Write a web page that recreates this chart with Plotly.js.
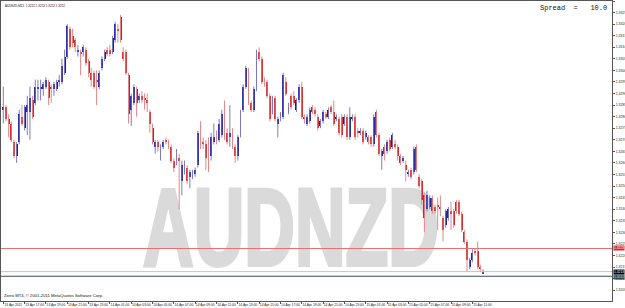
<!DOCTYPE html>
<html>
<head>
<meta charset="utf-8">
<script src="https://cdn.plot.ly/plotly-3.0.1.min.js"></script>
<style>
  html, body { margin: 0; padding: 0; background: #ffffff; overflow: hidden; }
  #wrap { position: relative; width: 625px; height: 308px; }
  #watermark {
    position: absolute; left: 0; top: 172px; width: 582px; height: 110px;
    font-family: "Liberation Sans", Arial, sans-serif; font-weight: bold;
    font-size: 110px; line-height: 110px; text-align: center; white-space: nowrap;
    color: #dadada; -webkit-text-stroke: 4px #dadada;
    transform: scaleX(0.637); transform-origin: center top; z-index: 0;
  }
  #chart { position: absolute; left: 0; top: 0; width: 625px; height: 308px; z-index: 1; }
</style>
</head>
<body>
<div id="wrap">
  <div id="watermark">AUDNZD</div>
  <div id="chart"></div>
</div>
<script>
// ---- Data (AUDNZD, M15) ----
const symbolTitle = "AUDNZD,M15  1.3212 1.3213 1.3212 1.3212";
const spreadText = "Spread\u00a0\u00a0=\u00a0\u00a0\u00a010.0";
const copyrightText = "Zorro MT4, \u00a9 2001-2011 MetaQuotes Software Corp.";

const barOpen = [
  1.3283,1.3284,1.3279,1.3277,1.3269,1.3263,1.3269,1.3280,1.3275,1.3282,
  1.3282,1.3287,1.3286,1.3292,1.3292,1.3292,1.3293,1.3295,1.3293,1.3292,
  1.3292,1.3295,1.3295,1.3299,1.3306,1.3318,1.3315,1.3313,1.3308,1.3308,
  1.3308,1.3309,1.3304,1.3299,1.3299,1.3296,1.3293,1.3301,1.3305,1.3309,
  1.3309,1.3308,1.3313,1.3318,1.3323,1.3308,1.3308,1.3298,1.3283,1.3286,
  1.3292,1.3287,1.3289,1.3288,1.3287,1.3282,1.3275,1.3267,1.3269,1.3263,
  1.3267,1.3270,1.3269,1.3267,1.3261,1.3261,1.3262,1.3252,1.3256,1.3258,
  1.3254,1.3254,1.3255,1.3259,1.3274,1.3269,1.3268,1.3268,1.3263,1.3269,
  1.3272,1.3270,1.3272,1.3282,1.3273,1.3271,1.3274,1.3267,1.3263,1.3272,
  1.3283,1.3293,1.3300,1.3286,1.3283,1.3292,1.3308,1.3305,1.3296,1.3295,
  1.3289,1.3282,1.3288,1.3277,1.3280,1.3280,1.3295,1.3282,1.3289,1.3289,
  1.3283,1.3287,1.3293,1.3280,1.3277,1.3278,1.3284,1.3283,1.3280,1.3276,
  1.3278,1.3281,1.3280,1.3284,1.3282,1.3279,1.3279,1.3280,1.3277,1.3280,
  1.3271,1.3279,1.3280,1.3274,1.3273,1.3274,1.3271,1.3271,1.3271,1.3268,
  1.3282,1.3272,1.3263,1.3267,1.3265,1.3270,1.3267,1.3268,1.3267,1.3263,
  1.3261,1.3259,1.3255,1.3257,1.3256,1.3267,1.3254,1.3252,1.3246,1.3240,
  1.3241,1.3245,1.3241,1.3242,1.3241,1.3236,1.3233,1.3236,1.3239,1.3239,
  1.3243,1.3243,1.3238,1.3230,1.3226,1.3215,1.3218,1.3222,1.3222,1.3215,
  1.3212
];
const barHigh = [
  1.3293,1.3285,1.3281,1.3278,1.3270,1.3269,1.3283,1.3285,1.3285,1.3289,
  1.3293,1.3289,1.3296,1.3296,1.3296,1.3295,1.3297,1.3296,1.3294,1.3295,
  1.3296,1.3298,1.3305,1.3309,1.3320,1.3319,1.3318,1.3314,1.3311,1.3309,
  1.3311,1.3310,1.3305,1.3301,1.3300,1.3300,1.3300,1.3306,1.3309,1.3310,
  1.3311,1.3315,1.3321,1.3320,1.3324,1.3310,1.3309,1.3299,1.3290,1.3294,
  1.3293,1.3290,1.3291,1.3290,1.3290,1.3283,1.3277,1.3270,1.3270,1.3268,
  1.3270,1.3271,1.3270,1.3268,1.3262,1.3266,1.3264,1.3261,1.3261,1.3259,
  1.3257,1.3257,1.3258,1.3274,1.3278,1.3271,1.3270,1.3271,1.3273,1.3277,
  1.3274,1.3279,1.3283,1.3287,1.3275,1.3285,1.3275,1.3268,1.3272,1.3283,
  1.3294,1.3302,1.3301,1.3287,1.3293,1.3309,1.3310,1.3306,1.3297,1.3296,
  1.3290,1.3289,1.3289,1.3280,1.3282,1.3299,1.3297,1.3286,1.3290,1.3291,
  1.3288,1.3294,1.3295,1.3281,1.3281,1.3284,1.3285,1.3284,1.3281,1.3279,
  1.3283,1.3282,1.3284,1.3285,1.3287,1.3281,1.3280,1.3281,1.3281,1.3281,
  1.3284,1.3281,1.3281,1.3275,1.3275,1.3275,1.3274,1.3272,1.3272,1.3281,
  1.3283,1.3273,1.3266,1.3268,1.3270,1.3271,1.3273,1.3270,1.3268,1.3264,
  1.3263,1.3261,1.3257,1.3258,1.3267,1.3268,1.3255,1.3253,1.3247,1.3248,
  1.3246,1.3246,1.3242,1.3245,1.3246,1.3237,1.3240,1.3241,1.3243,1.3240,
  1.3244,1.3244,1.3239,1.3231,1.3227,1.3219,1.3223,1.3223,1.3226,1.3216,
  1.3214
];
const barLow = [
  1.3277,1.3278,1.3271,1.3269,1.3262,1.3260,1.3268,1.3276,1.3274,1.3272,
  1.3270,1.3279,1.3285,1.3287,1.3287,1.3289,1.3292,1.3285,1.3286,1.3289,
  1.3291,1.3293,1.3294,1.3298,1.3305,1.3309,1.3310,1.3308,1.3306,1.3298,
  1.3306,1.3302,1.3297,1.3293,1.3292,1.3285,1.3292,1.3300,1.3304,1.3306,
  1.3306,1.3307,1.3312,1.3312,1.3312,1.3304,1.3298,1.3277,1.3276,1.3285,
  1.3280,1.3286,1.3286,1.3283,1.3282,1.3273,1.3268,1.3264,1.3265,1.3261,
  1.3266,1.3268,1.3266,1.3260,1.3256,1.3259,1.3240,1.3246,1.3255,1.3251,
  1.3249,1.3253,1.3254,1.3258,1.3266,1.3266,1.3257,1.3256,1.3261,1.3268,
  1.3268,1.3269,1.3271,1.3270,1.3268,1.3267,1.3266,1.3260,1.3261,1.3271,
  1.3282,1.3292,1.3285,1.3282,1.3282,1.3291,1.3304,1.3294,1.3293,1.3288,
  1.3278,1.3281,1.3278,1.3271,1.3278,1.3279,1.3289,1.3281,1.3283,1.3285,
  1.3282,1.3286,1.3279,1.3277,1.3276,1.3277,1.3281,1.3280,1.3274,1.3275,
  1.3277,1.3279,1.3279,1.3281,1.3276,1.3278,1.3272,1.3271,1.3276,1.3270,
  1.3270,1.3278,1.3270,1.3271,1.3272,1.3268,1.3270,1.3268,1.3267,1.3267,
  1.3271,1.3263,1.3257,1.3261,1.3264,1.3265,1.3266,1.3266,1.3261,1.3259,
  1.3260,1.3252,1.3254,1.3253,1.3255,1.3256,1.3249,1.3242,1.3230,1.3239,
  1.3240,1.3238,1.3238,1.3231,1.3237,1.3226,1.3232,1.3235,1.3231,1.3232,
  1.3238,1.3237,1.3230,1.3225,1.3213,1.3214,1.3217,1.3220,1.3214,1.3213,
  1.3212
];
const barClose = [
  1.3284,1.3279,1.3277,1.3270,1.3263,1.3268,1.3281,1.3277,1.3284,1.3285,
  1.3288,1.3280,1.3293,1.3293,1.3293,1.3294,1.3296,1.3288,1.3292,1.3294,
  1.3295,1.3296,1.3302,1.3306,1.3319,1.3310,1.3312,1.3310,1.3309,1.3307,
  1.3310,1.3303,1.3299,1.3296,1.3293,1.3295,1.3299,1.3305,1.3308,1.3307,
  1.3307,1.3314,1.3320,1.3317,1.3313,1.3305,1.3299,1.3281,1.3289,1.3293,
  1.3286,1.3289,1.3287,1.3287,1.3286,1.3277,1.3269,1.3269,1.3267,1.3267,
  1.3269,1.3269,1.3267,1.3261,1.3258,1.3264,1.3261,1.3259,1.3259,1.3252,
  1.3256,1.3256,1.3257,1.3273,1.3267,1.3268,1.3262,1.3266,1.3271,1.3271,
  1.3269,1.3277,1.3281,1.3271,1.3269,1.3273,1.3267,1.3263,1.3271,1.3281,
  1.3293,1.3301,1.3286,1.3283,1.3292,1.3308,1.3305,1.3295,1.3295,1.3289,
  1.3279,1.3288,1.3279,1.3279,1.3281,1.3298,1.3290,1.3284,1.3284,1.3286,
  1.3287,1.3293,1.3280,1.3279,1.3280,1.3283,1.3282,1.3281,1.3275,1.3278,
  1.3282,1.3280,1.3283,1.3282,1.3277,1.3280,1.3273,1.3272,1.3280,1.3271,
  1.3280,1.3280,1.3271,1.3273,1.3274,1.3269,1.3273,1.3269,1.3268,1.3280,
  1.3272,1.3264,1.3265,1.3264,1.3269,1.3266,1.3272,1.3267,1.3263,1.3260,
  1.3262,1.3257,1.3256,1.3254,1.3266,1.3257,1.3250,1.3244,1.3236,1.3246,
  1.3245,1.3239,1.3239,1.3241,1.3240,1.3231,1.3239,1.3240,1.3238,1.3233,
  1.3239,1.3238,1.3231,1.3226,1.3218,1.3218,1.3221,1.3221,1.3215,1.3214,
  1.3213
];

// time-axis labels (every 8th M15 bar = 2 hours)
const timeTickBars = [0,8,16,24,32,40,48,56,64,72,80,88,96,104,112,120,128,136,144,152,160,168,176];
const timeTickLabels = [
  "13 Apr 2011","13 Apr 17:00","13 Apr 19:00","13 Apr 21:00","13 Apr 23:00",
  "14 Apr 01:00","14 Apr 03:00","14 Apr 05:00","14 Apr 07:00","14 Apr 09:00",
  "14 Apr 11:00","14 Apr 13:00","14 Apr 15:00","14 Apr 17:00","14 Apr 19:00",
  "14 Apr 21:00","14 Apr 23:00","15 Apr 01:00","15 Apr 03:00","15 Apr 05:00",
  "15 Apr 07:00","15 Apr 09:00","15 Apr 11:00"
];

// horizontal price levels
const askPrice = 1.3223;
const bidPrice = 1.3213;
const levelPrice = 1.3211;

// ---- Build traces ----
const UP_BODY = '#15159c', DOWN_BODY = '#d01818';
const UP_WICK = '#7c7cc2', DOWN_WICK = '#e48888';

const barIndex = barOpen.map((_, i) => i);
const isUp = barOpen.map((o, i) => barClose[i] >= o);

function wicks(up) {
  const x = [], y = [];
  for (let i = 0; i < barOpen.length; i++) {
    if (isUp[i] === up) {
      x.push(i, i, null);
      y.push(barLow[i], barHigh[i], null);
    }
  }
  return { x, y };
}
const upW = wicks(true), dnW = wicks(false);

const traces = [
  { type: 'scatter', mode: 'lines', x: upW.x, y: upW.y, line: { color: UP_WICK, width: 1 }, hoverinfo: 'skip', showlegend: false },
  { type: 'scatter', mode: 'lines', x: dnW.x, y: dnW.y, line: { color: DOWN_WICK, width: 1 }, hoverinfo: 'skip', showlegend: false },
  {
    type: 'bar', x: barIndex, base: barOpen, y: barClose.map((c, i) => c - barOpen[i]),
    width: 0.72, marker: { color: isUp.map(u => u ? UP_BODY : DOWN_BODY), line: { width: 0 } },
    hoverinfo: 'skip', showlegend: false
  }
];

const tinyFont = { family: 'Liberation Sans, Arial, sans-serif', size: 3.5, color: '#222' };

const layout = {
  width: 625, height: 308,
  margin: { l: 1, r: 13, t: 1, b: 7, pad: 0 },
  paper_bgcolor: 'rgba(0,0,0,0)', plot_bgcolor: 'rgba(0,0,0,0)',
  showlegend: false, bargap: 0,
  xaxis: {
    range: [-0.86, 228.4], tickmode: 'array', tickvals: timeTickBars, ticktext: timeTickLabels,
    ticks: 'outside', ticklen: 2, tickwidth: 1, tickcolor: '#555',
    showline: true, linecolor: '#555', linewidth: 1, mirror: true,
    showgrid: false, zeroline: false,
    tickfont: { family: 'Liberation Sans, Arial, sans-serif', size: 3.3, color: '#222' },
    ticklabelshift: 10, ticklabelstandoff: -2, fixedrange: true
  },
  yaxis: {
    side: 'right', range: [1.32003, 1.3330], tick0: 1.3205, dtick: 0.0005, tickformat: '.4f',
    ticks: 'outside', ticklen: 2, tickwidth: 1, tickcolor: '#555',
    showline: true, linecolor: '#555', linewidth: 1, mirror: true,
    showgrid: false, zeroline: false, tickfont: tinyFont, ticklabelstandoff: 0, fixedrange: true
  },
  shapes: [
    { type: 'line', xref: 'paper', x0: 0, x1: 1, yref: 'y', y0: askPrice, y1: askPrice, line: { color: '#e87070', width: 1 } },
    { type: 'line', xref: 'paper', x0: 0, x1: 1, yref: 'y', y0: bidPrice, y1: bidPrice, line: { color: '#c4c4c4', width: 1 } },
    { type: 'line', xref: 'paper', x0: 0, x1: 1, yref: 'y', y0: levelPrice, y1: levelPrice, line: { color: '#3a4e4e', width: 1 } }
  ],
  annotations: [
    { xref: 'paper', yref: 'paper', x: 0, y: 1, xanchor: 'left', yanchor: 'top', xshift: 2, yshift: -1,
      text: symbolTitle, showarrow: false, font: { family: 'Liberation Sans, Arial, sans-serif', size: 3.0, color: '#111' } },
    { xref: 'paper', yref: 'paper', x: 0.995, y: 0.9767, xanchor: 'right', yanchor: 'middle',
      text: spreadText, showarrow: false, font: { family: 'Liberation Mono, Courier New, monospace', size: 7, color: '#111' } },
    { xref: 'paper', yref: 'paper', x: 0, y: 0, xanchor: 'left', yanchor: 'bottom', xshift: 1, yshift: 1,
      text: copyrightText, showarrow: false, font: { family: 'Liberation Sans, Arial, sans-serif', size: 4.2, color: '#111' } },
    { xref: 'paper', yref: 'y', x: 1, y: askPrice, xanchor: 'left', yanchor: 'middle', xshift: 1,
      text: askPrice.toFixed(4), showarrow: false, bgcolor: '#dc2a2a', borderpad: 0,
      font: { family: 'Liberation Sans, Arial, sans-serif', size: 3.3, color: '#ffffff' } },
    { xref: 'paper', yref: 'y', x: 1, y: bidPrice, xanchor: 'left', yanchor: 'middle', xshift: 1,
      text: bidPrice.toFixed(4), showarrow: false, bgcolor: '#000000', borderpad: 0,
      font: { family: 'Liberation Sans, Arial, sans-serif', size: 3.3, color: '#ffffff' } },
    { xref: 'paper', yref: 'y', x: 1, y: levelPrice, xanchor: 'left', yanchor: 'middle', xshift: 1, yshift: -1,
      text: levelPrice.toFixed(4), showarrow: false, bgcolor: '#2f4f4f', borderpad: 0,
      font: { family: 'Liberation Sans, Arial, sans-serif', size: 3.3, color: '#dddddd' } }
  ]
};

Plotly.newPlot('chart', traces, layout, { staticPlot: true, displayModeBar: false });
</script>
</body>
</html>
